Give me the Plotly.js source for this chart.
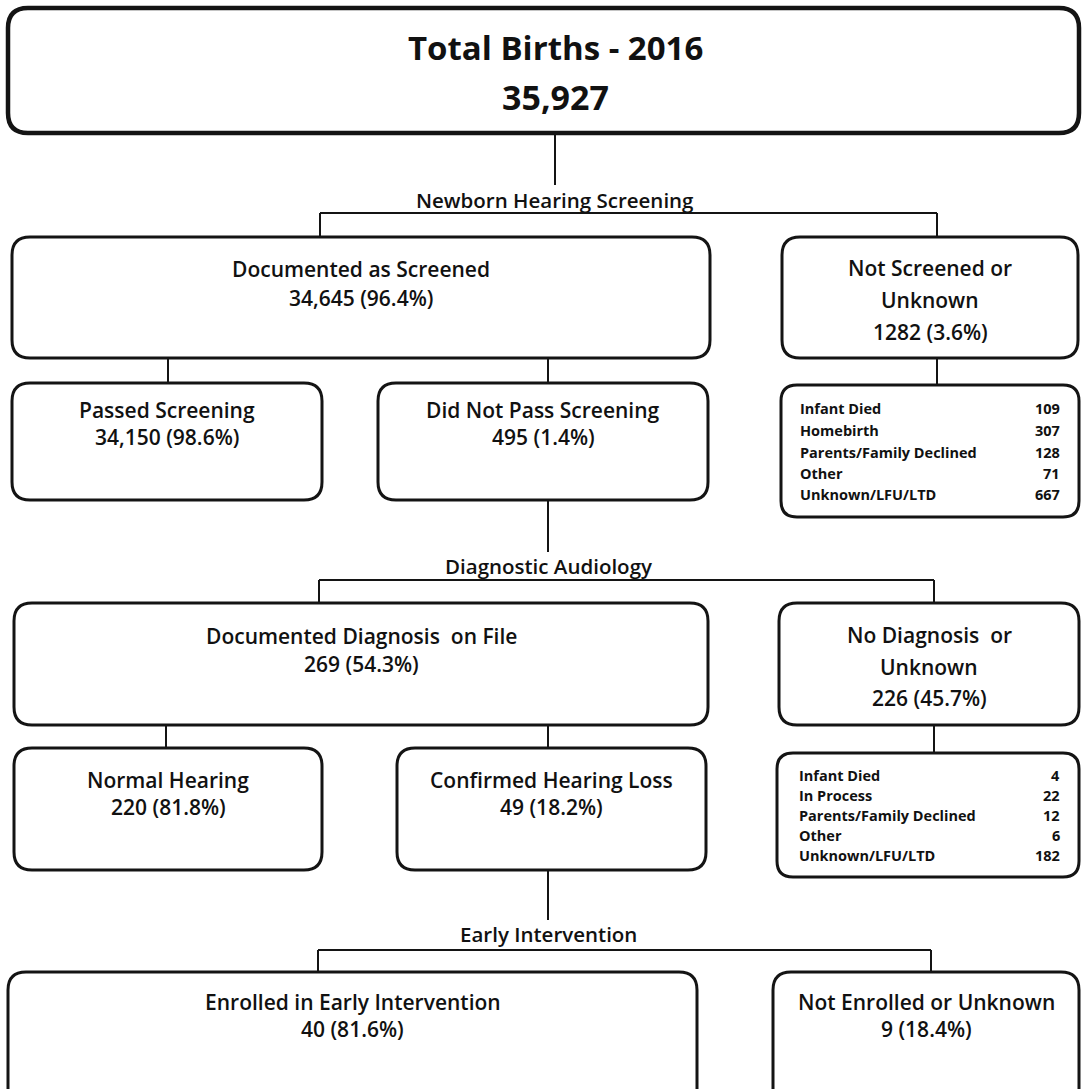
<!DOCTYPE html>
<html>
<head>
<meta charset="utf-8">
<script src="https://cdn.plot.ly/plotly-3.0.1.min.js"></script>
<style>html,body{margin:0;padding:0;background:#fff;}#chart{width:1083px;height:1089px;}</style>
</head>
<body>
<div id="chart"></div>
<script>
// ---------- DATA ----------
const stageNames = ["Newborn Hearing Screening", "Diagnostic Audiology", "Early Intervention"];

const titleLabel = "Total Births - 2016";
const totalBirths = 35927;

const nodeNames = [
  ["Documented as Screened"],
  ["Not Screened or", "Unknown"],
  ["Passed Screening"],
  ["Did Not Pass Screening"],
  ["Documented Diagnosis  on File"],
  ["No Diagnosis  or", "Unknown"],
  ["Normal Hearing"],
  ["Confirmed Hearing Loss"],
  ["Enrolled in Early Intervention"],
  ["Not Enrolled or Unknown"]
];
const nodeCounts = [34645, 1282, 34150, 495, 269, 226, 220, 49, 40, 9];
const nodePercents = [96.4, 3.6, 98.6, 1.4, 54.3, 45.7, 81.8, 18.2, 81.6, 18.4];

const notScreenedReasons = ["Infant Died", "Homebirth", "Parents/Family Declined", "Other", "Unknown/LFU/LTD"];
const notScreenedCounts = [109, 307, 128, 71, 667];
const noDiagnosisReasons = ["Infant Died", "In Process", "Parents/Family Declined", "Other", "Unknown/LFU/LTD"];
const noDiagnosisCounts = [4, 22, 12, 6, 182];

// ---------- LAYOUT (positions in pixel space of the axes) ----------
const FONT = "Open Sans, Noto Sans, sans-serif";
const boxGeom = [
  {x0: 12, x1: 710, y0: 237, y1: 358, lines: [269, 298]},
  {x0: 782, x1: 1078, y0: 237, y1: 358, lines: [268, 300, 332]},
  {x0: 12, x1: 322, y0: 383, y1: 500, lines: [410, 437]},
  {x0: 378, x1: 708, y0: 383, y1: 500, lines: [410, 437]},
  {x0: 14, x1: 708, y0: 603, y1: 725, lines: [636, 664]},
  {x0: 779, x1: 1079, y0: 603, y1: 725, lines: [635, 667, 698]},
  {x0: 14, x1: 322, y0: 748, y1: 870, lines: [780, 807]},
  {x0: 397, x1: 706, y0: 748, y1: 870, lines: [780, 807]},
  {x0: 8, x1: 697, y0: 972, y1: 1110, lines: [1002, 1029]},
  {x0: 773, x1: 1079, y0: 972, y1: 1110, lines: [1002, 1029]}
];
const totalGeom = {x0: 8, x1: 1079, y0: 8, y1: 133, lines: [47, 97]};
const tableGeom = [
  {x0: 781, x1: 1079, y0: 385, y1: 517, rows: [408, 430, 452, 473, 494], lx: 798, rx: 1062},
  {x0: 777, x1: 1079, y0: 753, y1: 877, rows: [775, 795, 815, 835, 855], lx: 797, rx: 1062}
];
const stageGeom = [
  {stemX: 555, stemY0: 133, stemY1: 185, labelY: 200, barY: 213, barX0: 320, barX1: 937, dropY: 237},
  {stemX: 548, stemY0: 500, stemY1: 552, labelY: 566, barY: 580, barX0: 319, barX1: 934, dropY: 603},
  {stemX: 548, stemY0: 870, stemY1: 920, labelY: 934, barY: 950, barX0: 318, barX1: 931, dropY: 972}
];
const childLinks = [
  {x: 168, y0: 358, y1: 383}, {x: 548, y0: 358, y1: 383}, {x: 937, y0: 358, y1: 385},
  {x: 166, y0: 725, y1: 748}, {x: 548, y0: 725, y1: 748}, {x: 934, y0: 725, y1: 753}
];

function fmtCount(n) { return n >= 10000 ? n.toLocaleString('en-US') : String(n); }

function roundRect(g, r, w) {
  const p = `M ${g.x0 + r},${g.y0} L ${g.x1 - r},${g.y0} Q ${g.x1},${g.y0} ${g.x1},${g.y0 + r} ` +
    `L ${g.x1},${g.y1 - r} Q ${g.x1},${g.y1} ${g.x1 - r},${g.y1} L ${g.x0 + r},${g.y1} ` +
    `Q ${g.x0},${g.y1} ${g.x0},${g.y1 - r} L ${g.x0},${g.y0 + r} Q ${g.x0},${g.y0} ${g.x0 + r},${g.y0} Z`;
  return {type: 'path', path: p, xref: 'x', yref: 'y', line: {color: '#141414', width: w}, fillcolor: 'rgba(0,0,0,0)', layer: 'above'};
}
function seg(x0, y0, x1, y1, w) {
  return {type: 'line', x0, y0, x1, y1, xref: 'x', yref: 'y', line: {color: '#141414', width: w || 2}};
}
function txt(text, x, y, size, weight, anchor) {
  return {text, x, y, xref: 'x', yref: 'y', showarrow: false, xanchor: anchor || 'center', yanchor: 'middle',
    font: {family: FONT, size, color: '#111', weight: weight || 600}};
}

const shapes = [];
const annotations = [];

// total box
shapes.push(roundRect(totalGeom, 20, 4.5));
annotations.push(txt(titleLabel, (totalGeom.x0 + totalGeom.x1) / 2 + 12, totalGeom.lines[0], 33, 700));
annotations.push(txt(fmtCount(totalBirths), (totalGeom.x0 + totalGeom.x1) / 2 + 12, totalGeom.lines[1], 34, 700));

// stage connectors + labels
stageGeom.forEach((s, i) => {
  shapes.push(seg(s.stemX, s.stemY0, s.stemX, s.stemY1));
  shapes.push(seg(s.barX0, s.barY, s.barX1, s.barY));
  shapes.push(seg(s.barX0, s.barY, s.barX0, s.dropY));
  shapes.push(seg(s.barX1, s.barY, s.barX1, s.dropY));
  annotations.push(txt(stageNames[i], s.stemX, s.labelY, 20.5, 600));
});
childLinks.forEach(l => shapes.push(seg(l.x, l.y0, l.x, l.y1)));

// boxes
boxGeom.forEach((g, i) => {
  shapes.push(roundRect(g, 18, 3));
  const cx = (g.x0 + g.x1) / 2;
  const lines = nodeNames[i].concat([fmtCount(nodeCounts[i]) + " (" + nodePercents[i].toFixed(1) + "%)"]);
  lines.forEach((t, k) => annotations.push(txt(t, cx, g.lines[k], 21, 600)));
});

// detail tables
[[notScreenedReasons, notScreenedCounts], [noDiagnosisReasons, noDiagnosisCounts]].forEach((tb, j) => {
  const g = tableGeom[j];
  shapes.push(roundRect(g, 16, 3));
  tb[0].forEach((lab, k) => {
    annotations.push(txt(lab, g.lx, g.rows[k], 14.5, 700, 'left'));
    annotations.push(txt(String(tb[1][k]), g.rx, g.rows[k], 14.5, 700, 'right'));
  });
});

const layout = {
  width: 1083, height: 1089,
  margin: {l: 0, r: 0, t: 0, b: 0},
  paper_bgcolor: '#fff', plot_bgcolor: '#fff',
  xaxis: {range: [0, 1083], visible: false, fixedrange: true},
  yaxis: {range: [1089, 0], visible: false, fixedrange: true},
  showlegend: false,
  shapes, annotations
};

Plotly.newPlot('chart', [{x: [], y: [], type: 'scatter', mode: 'markers', hoverinfo: 'skip'}], layout,
  {staticPlot: true, displayModeBar: false});
</script>
</body>
</html>
